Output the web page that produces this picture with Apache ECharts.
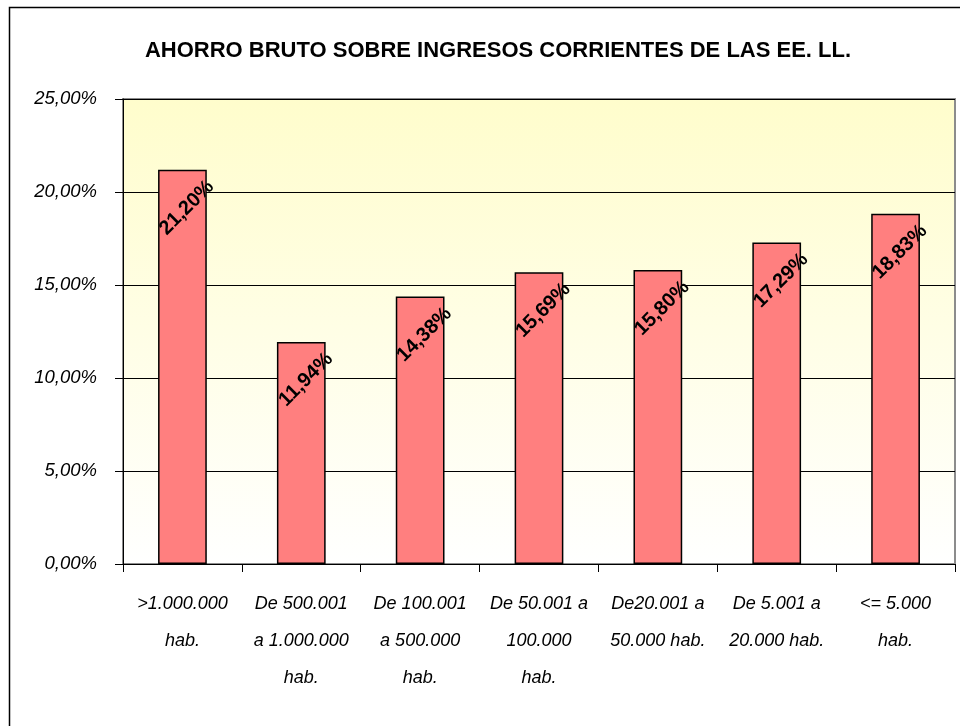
<!DOCTYPE html>
<html>
<head>
<meta charset="utf-8">
<style>
  body { margin: 0; padding: 0; background: #fff; }
  #main { width: 960px; height: 726px; }
</style>
</head>
<body>
<div id="main"></div>
<script src="https://cdn.jsdelivr.net/npm/echarts@6/dist/echarts.min.js"></script>
<script>
const FONT = '"Liberation Sans", Arial, sans-serif';

const chartTitle = 'AHORRO BRUTO SOBRE INGRESOS CORRIENTES DE LAS EE. LL.';
const categories = [
  '>1.000.000\nhab.',
  'De 500.001\na 1.000.000\nhab.',
  'De 100.001\na 500.000\nhab.',
  'De 50.001 a\n100.000\nhab.',
  'De20.001 a\n50.000 hab.',
  'De 5.001 a\n20.000 hab.',
  '<= 5.000\nhab.'
];
const ahorroValues = [21.20, 11.94, 14.38, 15.69, 15.80, 17.29, 18.83];
const yTicks = [0, 5, 10, 15, 20, 25];

const pct = v => v.toFixed(2).replace('.', ',') + '%';

const myChart = echarts.init(document.getElementById('main'));
myChart.setOption({
  animation: false,
  textStyle: { fontFamily: FONT },
  title: {
    text: chartTitle,
    left: 493,
    textAlign: 'center',
    top: 35,
    textStyle: { fontFamily: FONT, fontWeight: 'bold', fontSize: 22, color: '#000' }
  },
  graphic: [{
    type: 'rect',
    shape: { x: 9.5, y: 7.5, width: 1000, height: 800 },
    style: { fill: 'none', stroke: '#000', lineWidth: 1.5 },
    silent: true
  }],
  grid: {
    left: 123, top: 99, right: 5, bottom: 162,
    show: true,
    backgroundColor: new echarts.graphic.LinearGradient(0, 0, 0, 1, [
      { offset: 0, color: '#FFFDCC' },
      { offset: 1, color: '#FFFFFF' }
    ]),
    borderColor: '#8c8c8c',
    borderWidth: 2
  },
  xAxis: {
    type: 'category',
    data: categories,
    axisLine: { lineStyle: { color: '#000', width: 1 } },
    axisTick: { show: true, alignWithLabel: false, length: 8, lineStyle: { color: '#000' } },
    axisLabel: {
      interval: 0,
      margin: 21,
      fontSize: 18,
      fontStyle: 'italic',
      lineHeight: 37,
      color: '#000',
      fontFamily: FONT
    }
  },
  yAxis: {
    type: 'value',
    min: yTicks[0],
    max: yTicks[yTicks.length - 1],
    interval: 5,
    axisLine: { show: true, lineStyle: { color: '#000', width: 1 } },
    axisTick: { show: true, length: 8, lineStyle: { color: '#000' } },
    splitLine: { lineStyle: { color: '#000', width: 1 } },
    axisLabel: {
      margin: 26,
      fontSize: 18.5,
      fontStyle: 'italic',
      color: '#000',
      fontFamily: FONT,
      formatter: v => pct(v)
    }
  },
  series: [{
    type: 'bar',
    data: ahorroValues,
    barWidth: '41%',
    itemStyle: { color: '#FF7F7F', borderColor: '#000', borderWidth: 1.5 },
    label: {
      show: true,
      position: 'top',
      distance: 0,
      rotate: 45,
      align: 'right',
      verticalAlign: 'middle',
      offset: [10, 30],
      fontSize: 20,
      fontWeight: 'bold',
      color: '#000',
      fontFamily: FONT,
      formatter: p => pct(p.value)
    }
  }]
});
</script>
</body>
</html>
